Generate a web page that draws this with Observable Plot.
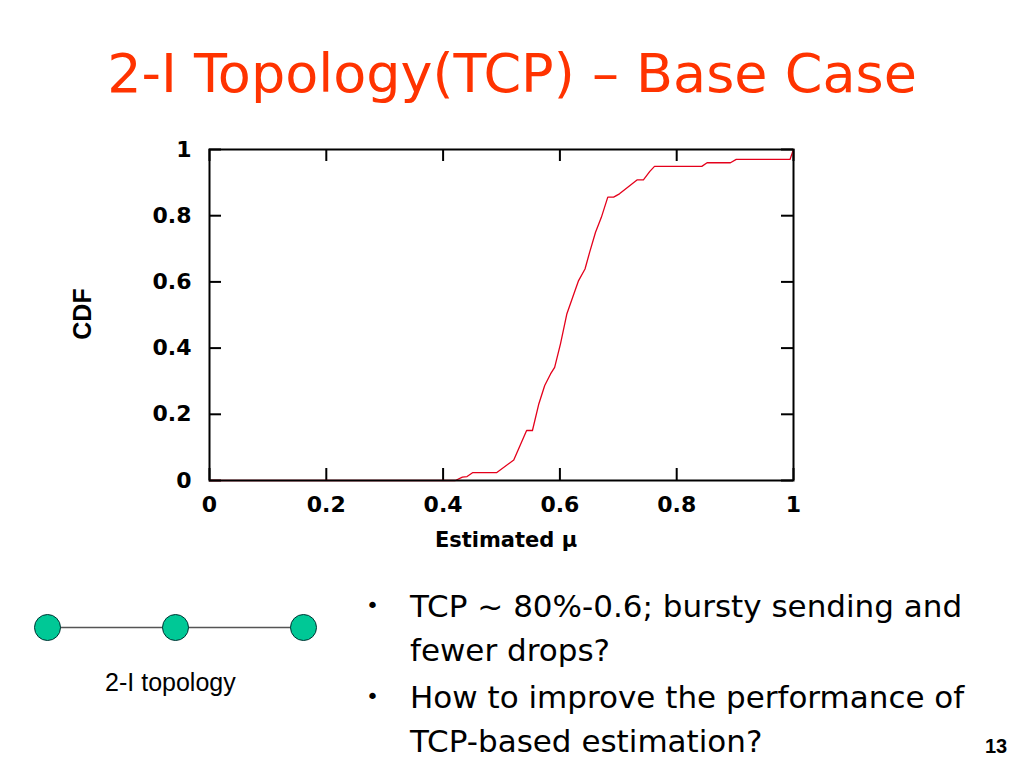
<!DOCTYPE html>
<html>
<head>
<meta charset="utf-8">
<script src="https://cdn.jsdelivr.net/npm/d3@7"></script>
<script src="https://cdn.jsdelivr.net/npm/@observablehq/plot@0.6"></script>
<style>
  html, body { margin: 0; padding: 0; background: #fff; width: 1024px; height: 768px; overflow: hidden; position: relative; }
  #title { position: absolute; left: 0; width: 1024px; top: 47px; line-height: 54px; text-align: center; font-family: "DejaVu Sans", sans-serif; font-size: 54px; color: #ff3300; white-space: nowrap; }
  #chart { position: absolute; left: 140px; top: 130px; }
  #cdf { position: absolute; left: 47px; top: 300px; width: 70px; text-align: center; transform: rotate(-90deg); font-family: "Liberation Sans", Arial, sans-serif; font-weight: bold; font-size: 25px; line-height: 28px; }
  #xlabel { position: absolute; left: 306px; width: 400px; top: 528px; text-align: center; font-family: "DejaVu Sans", sans-serif; font-weight: bold; font-size: 21px; }
  #topo { position: absolute; left: 0; top: 590px; }
  #bullets { position: absolute; left: 366px; top: 584px; font-family: "DejaVu Sans", sans-serif; font-size: 31px; line-height: 44px; color: #000; white-space: nowrap; }
  .b { position: relative; padding-left: 44px; }
  .b .dot { position: absolute; left: 0; top: 0; font-size: 22px; }
  #page { position: absolute; left: 985px; top: 735px; font-family: "Liberation Sans", Arial, sans-serif; font-weight: bold; font-size: 20px; }
</style>
</head>
<body>
<div id="title">2-I Topology(TCP) – Base Case</div>
<div id="chart"></div>
<div id="cdf">CDF</div>
<div id="xlabel">Estimated μ</div>
<div id="topo"></div>
<div id="bullets">
  <div class="b"><span class="dot">•</span>TCP ~ 80%-0.6; bursty sending and<br>fewer drops?</div>
  <div class="b" style="margin-top:3px"><span class="dot">•</span>How to improve the performance of<br>TCP-based estimation?</div>
</div>
<div id="page">13</div>
<script>
// CDF of estimated mu
const muValues  = [0, 0.421, 0.433, 0.441, 0.451, 0.492, 0.521, 0.543, 0.553, 0.564, 0.574, 0.584, 0.591, 0.601, 0.612, 0.624, 0.632, 0.643, 0.651, 0.661, 0.671, 0.682, 0.692, 0.702, 0.732, 0.743, 0.754, 0.762, 0.843, 0.852, 0.892, 0.902, 0.994, 1.0];
const cdfValues = [0, 0,     0.010, 0.012, 0.024, 0.024, 0.062, 0.151, 0.151, 0.232, 0.287, 0.322, 0.342, 0.413, 0.504, 0.564, 0.604, 0.639, 0.690, 0.750, 0.795, 0.856, 0.856, 0.866, 0.908, 0.908, 0.934, 0.949, 0.949, 0.960, 0.960, 0.970, 0.970, 1.0];
const xTicks = [0, 0.2, 0.4, 0.6, 0.8, 1];
const yTicks = [0, 0.2, 0.4, 0.6, 0.8, 1];
const xTickLabels = ["0", "0.2", "0.4", "0.6", "0.8", "1"];
const yTickLabels = ["0", "0.2", "0.4", "0.6", "0.8", "1"];

// topology nodes
const topoNodes = [0, 1, 2];
const topoLabel = "2-I topology";

const data = muValues.map((x, i) => ({x, y: cdfValues[i]}));

const W = 680, H = 430;
const mL = 69, mR = 27, mT = 19, mB = 80;
const pw = W - mL - mR, ph = H - mT - mB;
const tick = 12;
const tickFont = "DejaVu Sans, Verdana, sans-serif";

const chart = Plot.plot({
  width: W, height: H,
  marginLeft: mL, marginRight: mR, marginTop: mT, marginBottom: mB,
  x: {domain: [0, 1]},
  y: {domain: [0, 1]},
  style: {fontFamily: tickFont, fontWeight: "bold", fontSize: "22px", color: "#000", background: "transparent", overflow: "visible"},
  marks: [
    Plot.tickX(xTicks, {x: d => d, stroke: "#000", strokeWidth: 2, insetTop: ph - tick}),
    Plot.tickX(xTicks, {x: d => d, stroke: "#000", strokeWidth: 2, insetBottom: ph - tick}),
    Plot.tickY(yTicks, {y: d => d, stroke: "#000", strokeWidth: 2, insetRight: pw - tick}),
    Plot.tickY(yTicks, {y: d => d, stroke: "#000", strokeWidth: 2, insetLeft: pw - tick}),
    Plot.line(data, {x: "x", y: "y", stroke: "#e4001b", strokeWidth: 1.3}),
    Plot.frame({stroke: "#000", strokeWidth: 2}),
    Plot.axisX({ticks: xTicks, tickSize: 0, tickPadding: 16, tickFormat: (d, i) => xTickLabels[i], label: null, fontSize: 22, fontWeight: "bold", fontFamily: tickFont}),
    Plot.axisY({ticks: yTicks, tickSize: 0, tickPadding: 18, tickFormat: (d, i) => yTickLabels[i], label: null, fontSize: 22, fontWeight: "bold", fontFamily: tickFont})
  ]
});
document.getElementById("chart").appendChild(chart);

// topology diagram
const topo = Plot.plot({
  width: 340, height: 110,
  margin: 0,
  x: {domain: [0, 2], range: [47, 303]},
  y: {domain: [0, 1], range: [37, 92]},
  axis: null,
  style: {background: "transparent"},
  marks: [
    Plot.line(topoNodes, {x: d => d, y: () => 0, stroke: "#555", strokeWidth: 1.5}),
    Plot.dot(topoNodes, {x: d => d, y: () => 0, r: 13, fill: "#00c896", stroke: "#033", strokeWidth: 1}),
    Plot.text([topoLabel], {x: () => 0.96, y: () => 1, text: d => d, fontSize: 25, fontFamily: "Liberation Sans, Arial, sans-serif", fill: "#000"})
  ]
});
document.getElementById("topo").appendChild(topo);
</script>
</body>
</html>
